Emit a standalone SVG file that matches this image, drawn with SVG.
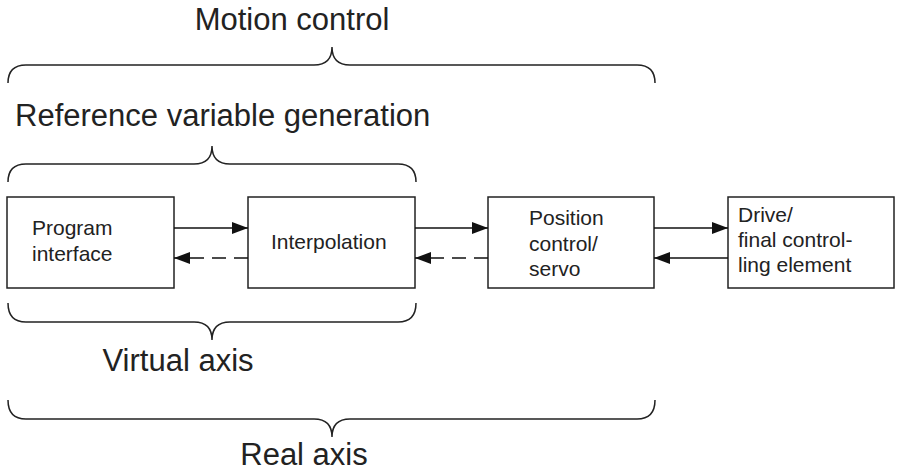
<svg xmlns="http://www.w3.org/2000/svg" width="897" height="472" viewBox="0 0 897 472">
  <defs>
    <marker id="ah" viewBox="0 0 16 12" refX="16" refY="6" markerWidth="16" markerHeight="12" markerUnits="userSpaceOnUse" orient="auto">
      <path d="M0,0 L16,6 L0,12 Z" fill="#111"/>
    </marker>
    <style>
      .box { fill: #fff; stroke: #222; stroke-width: 1.5; }
      .bt { font-family: "Liberation Sans", Arial, sans-serif; font-size: 21px; fill: #222; }
      .big { font-family: "Liberation Sans", Arial, sans-serif; font-size: 31px; fill: #222; }
      .brace { fill: none; stroke: #222; stroke-width: 1.5; }
      .conn { fill: none; stroke: #111; stroke-width: 1.5; marker-end: url(#ah); }
      .dash { stroke-dasharray: 14 8; }
    </style>
  </defs>
  <rect width="897" height="472" fill="#fff"/>

  <g id="labels">
    <text class="big" x="292" y="30" text-anchor="middle">Motion control</text>
    <text class="big" x="15" y="126">Reference variable generation</text>
    <text class="big" x="178" y="371" text-anchor="middle">Virtual axis</text>
    <text class="big" x="304" y="465" text-anchor="middle">Real axis</text>
  </g>

  <g id="braces">
    <path class="brace" d="M8,83 Q8,65 26,65 L314,65 Q332,65 332,47 Q332,65 350,65 L637,65 Q655,65 655,83"/>
    <path class="brace" d="M8,182 Q8,164 26,164 L194,164 Q212,164 212,146 Q212,164 230,164 L398,164 Q416,164 416,182"/>
    <path class="brace" d="M8,303 Q8,322 26,322 L194,322 Q212,322 212,340 Q212,322 230,322 L398,322 Q416,322 416,303"/>
    <path class="brace" d="M8,400 Q8,419 26,419 L314,419 Q332,419 332,437 Q332,419 350,419 L637,419 Q655,419 655,400"/>
  </g>

  <g id="program-interface">
    <rect class="box" x="7" y="197" width="167" height="91"/>
    <text class="bt" x="32" y="235">Program</text>
    <text class="bt" x="32" y="261">interface</text>
  </g>
  <g id="interpolation">
    <rect class="box" x="248" y="197" width="167" height="91"/>
    <text class="bt" x="271" y="249">Interpolation</text>
  </g>
  <g id="position-control">
    <rect class="box" x="488" y="197" width="166" height="91"/>
    <text class="bt" x="529" y="225">Position</text>
    <text class="bt" x="529" y="251">control/</text>
    <text class="bt" x="529" y="276">servo</text>
  </g>
  <g id="drive">
    <rect class="box" x="728" y="197" width="166" height="91"/>
    <text class="bt" x="738" y="222">Drive/</text>
    <text class="bt" x="738" y="247">final control-</text>
    <text class="bt" x="738" y="272">ling element</text>
  </g>

  <g id="connectors">
    <line class="conn" x1="174" y1="228" x2="248" y2="228"/>
    <line class="conn dash" x1="248" y1="258" x2="174" y2="258"/>
    <line class="conn" x1="415" y1="228" x2="488" y2="228"/>
    <line class="conn dash" x1="488" y1="258" x2="415" y2="258"/>
    <line class="conn" x1="654" y1="228" x2="728" y2="228"/>
    <line class="conn" x1="728" y1="258" x2="654" y2="258"/>
  </g>
</svg>
